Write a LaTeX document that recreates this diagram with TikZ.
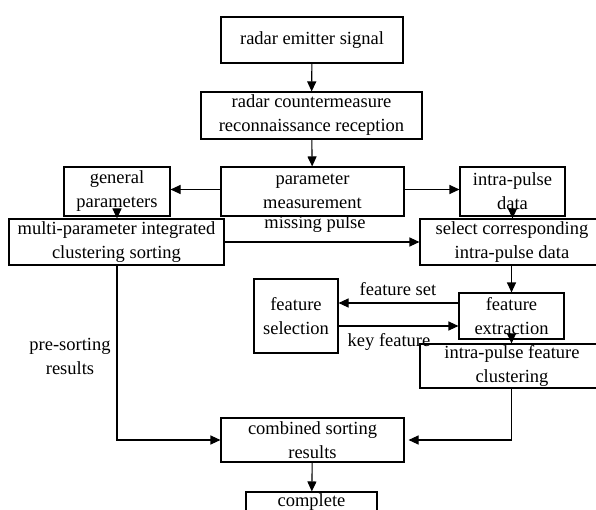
\documentclass[tikz,border=0pt]{standalone}
\usepackage{fontspec}
\setmainfont{Liberation Serif}
\usetikzlibrary{arrows.meta}
\begin{document}
\begin{tikzpicture}[x=1pt,y=-1pt,
  box/.style={draw,line width=1.1pt,align=center,inner sep=0pt,font=\fontsize{18.5}{24}\selectfont},
  lbl/.style={align=center,inner sep=0pt,font=\fontsize{18.5}{24}\selectfont},
  arr/.style={line width=1.1pt,-{Triangle[length=10pt,width=9pt]}}]
\useasboundingbox (0,0) rectangle (596,510);
\begin{scope}
\clip (0,0) rectangle (596,510);
\node[box,minimum width=182pt,minimum height=46pt] (sig) at (312,40) {radar emitter signal};
\node[box,minimum width=221pt,minimum height=47pt] (rec) at (311.5,115.5) {radar countermeasure\\reconnaissance reception};
\node[box,minimum width=183pt,minimum height=49pt] (pm) at (312.5,191.5) {parameter\\measurement};
\node[box,minimum width=106pt,minimum height=49pt] (gp) at (117,191.5) {general\\parameters};
\node[box,minimum width=105pt,minimum height=49pt] (ipd) at (512.5,191.5) {intra-pulse\\data};
\node[box,minimum width=215pt,minimum height=46pt] (mp) at (116.5,242) {multi-parameter integrated\\clustering sorting};
\node[box,minimum width=184pt,minimum height=46pt] (sel) at (512,242) {select corresponding\\intra-pulse data};
\node[box,minimum width=84pt,minimum height=74pt] (fs) at (296,316) {feature\\selection};
\node[box,minimum width=105pt,minimum height=46pt] (fe) at (511.5,316) {feature\\extraction};
\node[box,minimum width=184pt,minimum height=44pt] (ifc) at (512,366) {intra-pulse feature\\clustering};
\node[box,minimum width=183pt,minimum height=44pt] (csr) at (312.5,440) {combined sorting\\results};
\node[box,minimum width=131pt,minimum height=44pt] (cs) at (311.5,514) {complete\\sorting};

\node[lbl] (l1) at (315,224) {missing pulse};
\node[lbl] (l2) at (398,289) {feature set};
\node[lbl] (l3) at (389,342) {key feature};
\node[lbl] (l4) at (70,356) {pre-sorting\\results};

\draw[arr] (sig) -- (rec);
\draw[arr] (rec) -- (pm);
\draw[arr] ([yshift=2pt]pm.west) -- ([yshift=2pt]pm.west -| gp.east);
\draw[arr] ([yshift=2pt]pm.east) -- ([yshift=2pt]pm.east -| ipd.west);
\draw[arr] (gp) -- (mp.north -| gp);
\draw[arr] (ipd) -- (sel.north -| ipd);
\draw[arr] (mp.east) -- (sel.west);
\draw[arr] (sel.south -| fe) -- (fe);
\draw[arr] ([yshift=13pt]fe.west) -- ([yshift=13pt]fe.west -| fs.east);
\draw[arr] ([yshift=-10pt]fs.east) -- ([yshift=-10pt]fs.east -| fe.west);
\draw[arr] (fe) -- (ifc.north -| fe);
\draw[arr] (ifc.south -| fe) |- ([xshift=4pt]csr.east);
\draw[arr] (mp.south -| gp) |- (csr.west);
\draw[arr] (csr) -- (cs);
\end{scope}
\end{tikzpicture}
\end{document}
